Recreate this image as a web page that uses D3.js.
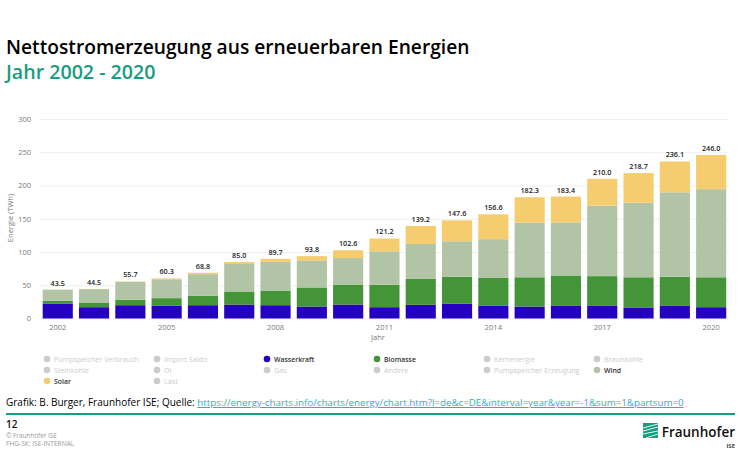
<!DOCTYPE html>
<html>
<head>
<meta charset="utf-8">
<script src="https://cdn.jsdelivr.net/npm/d3@7"></script>
<style>
  html, body { margin: 0; padding: 0; background: #fff; }
  text { font-family: "Open Sans", "Noto Sans", sans-serif; }
  .grid line { stroke: #efefef; }
  .grid path, .xaxis path, .xaxis line { display: none; }
  .tick text { fill: #777; font-size: 7.5px; }
</style>
</head>
<body>
<svg id="chart" width="740" height="474"></svg>
<script>
const years = [2002, 2003, 2004, 2005, 2006, 2007, 2008, 2009, 2010, 2011, 2012, 2013, 2014, 2015, 2016, 2017, 2018, 2019, 2020];
const wasserkraft = [22.6, 17, 20, 19, 20, 21, 20, 18, 21, 17, 20.6, 22, 19, 18, 19.6, 19.6, 16.6, 19.6, 17];
const biomasse = [4, 7, 8, 11.6, 14, 19.6, 22, 28.7, 30, 33.7, 39.4, 40.7, 42, 44, 45.1, 44.1, 45.4, 43.1, 45];
const wind = [16.7, 20.2, 27.1, 28.4, 32.6, 41.3, 43.3, 40.5, 39.9, 50.2, 52, 53.4, 58.3, 82.2, 79.8, 106, 112, 127, 132.5];
const solar = [0.2, 0.3, 0.6, 1.3, 2.2, 3.1, 4.4, 6.6, 11.7, 19.3, 27.2, 31.5, 37.3, 38.1, 38.9, 40.3, 44.7, 46.4, 51.5];
const totals = ['43.5', '44.5', '55.7', '60.3', '68.8', '85.0', '89.7', '93.8', '102.6', '121.2', '139.2', '147.6', '156.6', '182.3', '183.4', '210.0', '218.7', '236.1', '246.0'];
const yTicks = [0, 50, 100, 150, 200, 250, 300];
const xTicks = [2002, 2005, 2008, 2011, 2014, 2017, 2020];
const legendNames = ['Pumpspeicher Verbrauch', 'Import Saldo', 'Wasserkraft', 'Biomasse', 'Kernenergie', 'Braunkohle',
  'Steinkohle', 'Öl', 'Gas', 'Andere', 'Pumpspeicher Erzeugung', 'Wind', 'Solar', 'Last'];

const colors = { Wasserkraft: '#2500c0', Biomasse: '#439537', Wind: '#b2c4a6', Solar: '#f5cc6e' };
const green = '#179c7d';

const svg = d3.select('#chart');

// header
svg.append('text').attr('x', 6).attr('y', 53.5).style('font-size', '19.2px').style('font-weight', 600).attr('fill', '#000')
  .text('Nettostromerzeugung aus erneuerbaren Energien');
svg.append('text').attr('x', 6).attr('y', 78.5).style('font-size', '19.6px').style('font-weight', 600).attr('fill', green)
  .text('Jahr 2002 - 2020');

// scales
const x = d3.scaleBand().domain(years).range([39.6, 729.3]).paddingInner(0.17).paddingOuter(0.085);
const y = d3.scaleLinear().domain([0, 300]).range([318.5, 119]);

svg.append('g').attr('class', 'grid').attr('transform', 'translate(40,0)')
  .call(d3.axisLeft(y).tickValues(yTicks).tickSize(-688).tickPadding(9));

svg.append('g').attr('class', 'xaxis').attr('transform', 'translate(0,318.5)')
  .call(d3.axisBottom(x).tickValues(xTicks).tickSize(0).tickPadding(6));

// stacked bars
const rows = years.map((year, i) => ({ year, Wasserkraft: wasserkraft[i], Biomasse: biomasse[i], Wind: wind[i], Solar: solar[i] }));
const series = d3.stack().keys(['Wasserkraft', 'Biomasse', 'Wind', 'Solar'])(rows);

svg.selectAll('g.layer').data(series).enter().append('g').attr('class', 'layer')
  .attr('fill', d => colors[d.key])
  .selectAll('rect').data(d => d).enter().append('rect')
  .attr('x', d => x(d.data.year))
  .attr('y', d => y(d[1]))
  .attr('width', x.bandwidth())
  .attr('height', d => y(d[0]) - y(d[1]));

// sum labels
svg.selectAll('text.sum').data(years).enter().append('text').attr('class', 'sum')
  .attr('x', d => x(d) + x.bandwidth() / 2)
  .attr('y', (d, i) => y(+totals[i]) - 4)
  .attr('text-anchor', 'middle')
  .style('font-size', '7.2px').style('font-weight', 600).attr('fill', '#222')
  .text((d, i) => totals[i]);

// axis titles
svg.append('text').attr('transform', 'translate(13,218) rotate(-90)').attr('text-anchor', 'middle')
  .style('font-size', '7.5px').attr('fill', '#777').text('Energie (TWh)');
svg.append('text').attr('x', 378).attr('y', 340).attr('text-anchor', 'middle')
  .style('font-size', '7.5px').attr('fill', '#777').text('Jahr');

// legend
const legend = svg.selectAll('g.legend').data(legendNames).enter().append('g').attr('class', 'legend')
  .attr('transform', (d, i) => `translate(${47 + (i % 6) * 110},${359 + Math.floor(i / 6) * 11})`);
legend.append('circle').attr('r', 3.3).attr('fill', d => colors[d] || '#ccc');
legend.append('text').attr('x', 7).attr('y', 2.6)
  .style('font-size', d => colors[d] ? '6.9px' : '7.2px')
  .style('font-weight', d => colors[d] ? 600 : 400)
  .attr('fill', d => colors[d] ? '#333' : '#ccc').text(d => d);

// source line
const source = svg.append('text').attr('x', 6).attr('y', 406).style('font-size', '10px').style('font-weight', 500).attr('fill', '#000');
source.append('tspan').text('Grafik: B. Burger, Fraunhofer ISE; Quelle: ');
source.append('tspan').attr('fill', '#1cb1e2').style('font-size', '9.76px').style('text-decoration', 'underline')
  .text('https://energy-charts.info/charts/energy/chart.htm?l=de&c=DE&interval=year&year=-1&sum=1&partsum=0');

svg.append('rect').attr('x', 6).attr('y', 413).attr('width', 729).attr('height', 2).attr('fill', green);

// footer
svg.append('text').attr('x', 6).attr('y', 428).style('font-size', '10px').style('font-weight', 600).attr('fill', '#111').text('12');
svg.append('text').attr('x', 6).attr('y', 438).style('font-size', '6.4px').attr('fill', '#999').text('© Fraunhofer ISE');
svg.append('text').attr('x', 6).attr('y', 445.5).style('font-size', '6.6px').attr('fill', '#999').text('FHG-SK: ISE-INTERNAL');

// logo
const logo = svg.append('g').attr('transform', 'translate(643,423)');
logo.append('rect').attr('width', 15).attr('height', 15).attr('fill', green);
[[0, 5, 15, 1], [0, 8, 15, 4], [0, 11, 15, 8], [3, 15, 15, 11]].forEach(s => {
  logo.append('line').attr('x1', s[0]).attr('y1', s[1]).attr('x2', s[2]).attr('y2', s[3]).attr('stroke', '#fff').attr('stroke-width', 0.9);
});
svg.append('text').attr('x', 735).attr('y', 437).attr('text-anchor', 'end').style('font-size', '13.5px').style('font-weight', 600).attr('fill', '#111').text('Fraunhofer');
svg.append('text').attr('x', 735).attr('y', 447.5).attr('text-anchor', 'end').style('font-size', '6px').style('font-weight', 600).attr('fill', '#111').text('ISE');
</script>
</body>
</html>
